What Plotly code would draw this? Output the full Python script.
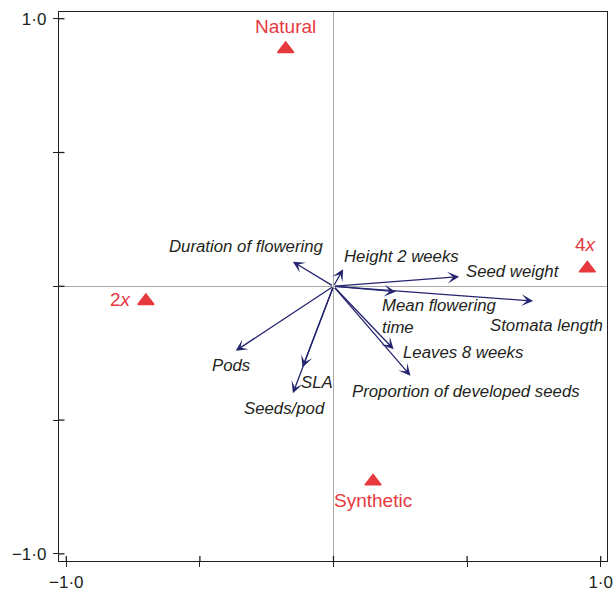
import plotly.graph_objects as go

# Trait loadings (biplot arrows)
traits = [
    "Duration of flowering", "Height 2 weeks", "Seed weight", "Stomata length",
    "Mean flowering<br>time", "Leaves 8 weeks", "Proportion of developed seeds",
    "Pods", "SLA", "Seeds/pod",
]
trait_x = [-0.152, 0.036, 0.470, 0.747, 0.233, 0.225, 0.288, -0.366, -0.116, -0.152]
trait_y = [0.092, 0.064, 0.036, -0.055, -0.020, -0.235, -0.334, -0.241, -0.303, -0.400]

# Group centroids
groups = ["Natural", "2<i>x</i>", "4<i>x</i>", "Synthetic"]
group_x = [-0.179, -0.702, 0.950, 0.148]
group_y = [0.887, -0.055, 0.067, -0.729]

# Tick values and labels
tick_vals = [-1.0, -0.5, 0.0, 0.5, 1.0]
tick_text = ["\u22121\u00b70", "", "", "", "1\u00b70"]

# Label placement relative to the arrow tip (pixels) and anchoring
trait_label_style = [
    dict(xanchor="right", xshift=31, yshift=15),
    dict(xanchor="left", xshift=1, yshift=13),
    dict(xanchor="left", xshift=7, yshift=5),
    dict(xanchor="right", xshift=70, yshift=-24),
    dict(xanchor="left", xshift=-14, yshift=-25),
    dict(xanchor="left", xshift=9, yshift=-3),
    dict(xanchor="left", xshift=-58, yshift=-16),
    dict(xanchor="left", xshift=-24, yshift=-15),
    dict(xanchor="left", xshift=-2, yshift=-15),
    dict(xanchor="right", xshift=32, yshift=-15),
]
group_label_style = [
    dict(xanchor="center", xshift=0, yshift=22),
    dict(xanchor="right", xshift=-14, yshift=2),
    dict(xanchor="center", xshift=-1, yshift=24),
    dict(xanchor="center", xshift=0, yshift=-19),
]

FONT = "Liberation Sans, Arial, Helvetica, sans-serif"
ARROW = "#25256f"
RED = "#e63a3f"
INK = "#231f20"

X_RANGE = [-1.0273, 1.0236]
Y_RANGE = [-1.0266, 1.0251]

fig = go.Figure()

fig.add_trace(go.Scatter(
    x=group_x, y=group_y, mode="markers",
    marker=dict(symbol="triangle-up", size=14, color=RED,
                line=dict(color=RED, width=1.5)),
    hoverinfo="skip", showlegend=False,
))

annotations = []
for tx, ty in zip(trait_x, trait_y):
    annotations.append(dict(
        x=tx, y=ty, ax=0, ay=0, xref="x", yref="y", axref="x", ayref="y",
        text="", showarrow=True, arrowhead=3, arrowsize=1.5, arrowwidth=1.3,
        arrowcolor=ARROW, standoff=0, startstandoff=0,
    ))
for name, tx, ty, st in zip(traits, trait_x, trait_y, trait_label_style):
    annotations.append(dict(
        x=tx, y=ty, xref="x", yref="y", text=f"<i>{name}</i>", showarrow=False,
        xanchor=st["xanchor"], yanchor="middle", xshift=st["xshift"], yshift=st["yshift"],
        align="left", borderpad=0, borderwidth=0,
        font=dict(family=FONT, size=16.8, color=INK),
    ))
for name, gx, gy, st in zip(groups, group_x, group_y, group_label_style):
    annotations.append(dict(
        x=gx, y=gy, xref="x", yref="y", text=name, showarrow=False,
        xanchor=st["xanchor"], yanchor="middle", xshift=st["xshift"], yshift=st["yshift"],
        borderpad=0, borderwidth=0,
        font=dict(family=FONT, size=19, color=RED),
    ))

# Inner halves of the ticks (ticks cross the frame)
shapes = []
for v in tick_vals:
    shapes.append(dict(type="line", xref="x", yref="y", x0=v, x1=v,
                       ysizemode="pixel", yanchor=Y_RANGE[0], y0=0, y1=5,
                       line=dict(color=INK, width=1.3)))
    shapes.append(dict(type="line", xref="x", yref="y", y0=v, y1=v,
                       xsizemode="pixel", xanchor=X_RANGE[0], x0=0, x1=5.5,
                       line=dict(color=INK, width=1.3)))

axis_common = dict(
    showgrid=False, zeroline=True, zerolinecolor="#a9a9a9", zerolinewidth=1.2,
    showline=True, mirror=True, linecolor=INK, linewidth=1.3,
    ticks="outside", ticklen=5, tickwidth=1.3, tickcolor=INK,
    tickvals=tick_vals, ticktext=tick_text, automargin=False,
    tickfont=dict(family=FONT, size=17, color=INK),
)

fig.update_layout(
    width=616, height=591,
    margin=dict(l=59, r=9, t=12, b=30),
    font=dict(family=FONT, size=17, color=INK),
    paper_bgcolor="white", plot_bgcolor="white",
    xaxis=dict(range=X_RANGE, **axis_common),
    yaxis=dict(range=Y_RANGE, ticklabelstandoff=3, **axis_common),
    annotations=annotations, shapes=shapes,
    showlegend=False,
)

fig.write_html("out.html")
